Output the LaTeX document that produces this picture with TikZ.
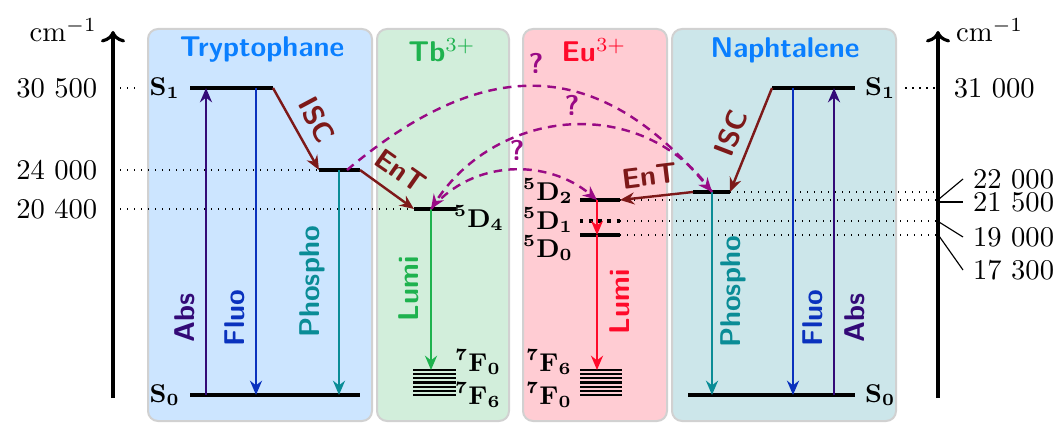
\documentclass[tikz,border=0pt]{standalone}
\usepackage{amsmath}
\usepackage{xcolor}
\usepackage{tikz}
\usetikzlibrary{arrows.meta, positioning}

\definecolor{trpfill}{HTML}{CCE5FF}
\definecolor{tbfill}{HTML}{D2EEDB}
\definecolor{eufill}{HTML}{FFCCD3}
\definecolor{naphfill}{HTML}{CCE6EA}
\definecolor{titleblue}{HTML}{0A7FFF}
\definecolor{tbgreen}{HTML}{1EB24E}
\definecolor{eured}{HTML}{FF0A2A}
\definecolor{abscol}{HTML}{330A77}
\definecolor{fluocol}{HTML}{0A32BE}
\definecolor{phoscol}{HTML}{0A8C96}
\definecolor{isccol}{HTML}{7D1919}
\definecolor{qcol}{HTML}{990A85}

\begin{document}
\begin{tikzpicture}[x=0.35pt, y=0.35pt,
  panel/.style={draw=black!18, line width=0.7pt, rounded corners=3.5pt},
  title/.style={font=\sffamily\bfseries},
  level/.style={line width=1.2pt},
  lvlab/.style={font=\small},
  trans/.style={-{Stealth[length=5pt, width=4.2pt]}, line width=0.85pt},
  tlabel/.style={font=\sffamily\bfseries, rotate=90},
  guide/.style={dotted, line width=0.45pt},
  hop/.style={trans, color=qcol, dash pattern=on 3pt off 2.2pt, line width=0.85pt},
  axis/.style={->, line width=1.1pt},
  lead/.style={line width=0.4pt}
]
  \useasboundingbox (0,0) rectangle (1057,423);

  % panels
  \draw[panel, fill=trpfill] (148,2) rectangle (372,394);
  \draw[panel, fill=tbfill] (377,2) rectangle (509,394);
  \draw[panel, fill=eufill] (523,2) rectangle (667,394);
  \draw[panel, fill=naphfill] (672,2) rectangle (896,394);
  \node[title, text=titleblue] (trpname) at (262,373) {Tryptophane};
  \node[title, text=tbgreen] (tbname) at (442,373) {Tb$^{3+}$};
  \node[title, text=eured] (euname) at (594,373) {Eu$^{3+}$};
  \node[title, text=titleblue] (naphname) at (785,373) {Naphtalene};

  % axes
  \coordinate (axL0) at (113,25);
  \coordinate (axL1) at (113,392);
  \coordinate (axR0) at (938,25);
  \coordinate (axR1) at (938,392);
  \draw[axis] (axL0) -- (axL1);
  \draw[axis] (axR0) -- (axR1);
  \node[anchor=east] (unitL) at (107,393) {$\mathrm{cm}^{-1}$};
  \node[anchor=west] (unitR) at (946,393) {$\mathrm{cm}^{-1}$};

  % levels
  \coordinate (trpS1a) at (190,335);
  \coordinate (trpS1b) at (273,335);
  \coordinate (trpTa) at (319,253);
  \coordinate (trpTb) at (360,253);
  \coordinate (trpTm) at (347,253);
  \coordinate (trpS0a) at (190,28);
  \coordinate (trpS0b) at (360,28);
  \coordinate (trpAbsx) at (206,0);
  \coordinate (trpFluox) at (256,0);
  \coordinate (trpPhosx) at (339,0);

  \coordinate (tbD4a) at (414,214);
  \coordinate (tbD4b) at (456,214);
  \coordinate (tbx) at (431,0);
  \coordinate (tbF0) at (0,53);

  \coordinate (euD2a) at (580,223);
  \coordinate (euD2b) at (620,223);
  \coordinate (euD1a) at (580,202);
  \coordinate (euD1b) at (620,202);
  \coordinate (euD0a) at (580,188);
  \coordinate (euD0b) at (620,188);
  \coordinate (eux) at (597,0);
  \coordinate (euF6) at (0,53);

  \coordinate (naphS1a) at (772,335);
  \coordinate (naphS1b) at (855,335);
  \coordinate (naphTa) at (693,231);
  \coordinate (naphTb) at (730,231);
  \coordinate (naphS0a) at (688,28);
  \coordinate (naphS0b) at (855,28);
  \coordinate (naphPhosx) at (712,0);
  \coordinate (naphFluox) at (793,0);
  \coordinate (naphAbsx) at (834,0);

  \node[lvlab, anchor=east] (trpS1lab) at (trpS1a) {$\mathbf{S_1}$};
  \node[lvlab, anchor=east] (trpS0lab) at (trpS0a) {$\mathbf{S_0}$};
  \node[lvlab, anchor=west] (naphS1lab) at (naphS1b) {$\mathbf{S_1}$};
  \node[lvlab, anchor=west] (naphS0lab) at (naphS0b) {$\mathbf{S_0}$};
  \node[lvlab] (tbD4lab) at (479,205) {$\mathbf{{}^5D_4}$};
  \node[lvlab] (tbF0lab) at (478,61) {$\mathbf{{}^7F_0}$};
  \node[lvlab] (tbF6lab) at (478,28) {$\mathbf{{}^7F_6}$};
  \node[lvlab] (euD2lab) at (548,232) {$\mathbf{{}^5D_2}$};
  \node[lvlab] (euD1lab) at (548,203) {$\mathbf{{}^5D_1}$};
  \node[lvlab] (euD0lab) at (548,175) {$\mathbf{{}^5D_0}$};
  \node[lvlab] (euF6lab) at (549,61) {$\mathbf{{}^7F_6}$};
  \node[lvlab] (euF0lab) at (549,28) {$\mathbf{{}^7F_0}$};

  % dotted guides
  \draw[guide] (axL0 |- trpS1a) -- (trpS1lab.west);
  \draw[guide] (axL0 |- trpTa) -- (trpTa);
  \draw[guide] (axL0 |- tbD4a) -- (tbD4a);
  \draw[guide] (naphS1lab.east) -- (axR0 |- naphS1b);
  \draw[guide] (naphTb) -- (axR0 |- naphTb);
  \draw[guide] (euD2b) -- (axR0 |- euD2b);
  \draw[guide] (euD1b) -- (axR0 |- euD1b);
  \draw[guide] (euD0b) -- (axR0 |- euD0b);

  \draw[level] (trpS1a) -- (trpS1b);
  \draw[level] (trpTa) -- (trpTb);
  \draw[level] (trpS0a) -- (trpS0b);
  \draw[level] (tbD4a) -- (tbD4b);
  \draw[level] (euD2a) -- (euD2b);
  \draw[level, dotted] (euD1a) -- (euD1b);
  \draw[level] (euD0a) -- (euD0b);
  \draw[level] (naphS1a) -- (naphS1b);
  \draw[level] (naphTa) -- (naphTb);
  \draw[level] (naphS0a) -- (naphS0b);
  \foreach \k in {0,...,6} {
    \draw[line width=0.75pt] (413,{53-4.17*\k}) -- (456,{53-4.17*\k});
    \draw[line width=0.75pt] (580,{53-4.17*\k}) -- (622,{53-4.17*\k});
  }

  % radiative transitions
  \draw[trans, abscol] (trpAbsx |- trpS0a) -- (trpAbsx |- trpS1a);
  \draw[trans, fluocol] (trpFluox |- trpS1a) -- (trpFluox |- trpS0a);
  \draw[trans, phoscol] (trpPhosx |- trpTa) -- (trpPhosx |- trpS0a);
  \draw[trans, tbgreen] (tbx |- tbD4a) -- (tbx |- tbF0);
  \draw[trans, eured] (eux |- euD2a) -- (eux |- euD0a);
  \draw[trans, eured] (eux |- euD0a) -- (eux |- euF6);
  \draw[trans, phoscol] (naphPhosx |- naphTa) -- (naphPhosx |- naphS0a);
  \draw[trans, fluocol] (naphFluox |- naphS1a) -- (naphFluox |- naphS0a);
  \draw[trans, abscol] (naphAbsx |- naphS0a) -- (naphAbsx |- naphS1a);

  \node[tlabel, text=abscol] (trpabs) at (185,105) {Abs};
  \node[tlabel, text=fluocol] (trpfluo) at (235,105) {Fluo};
  \node[tlabel, text=phoscol] (trpphos) at (312,141) {Phospho};
  \node[tlabel, text=tbgreen] (tblumi) at (409,134) {Lumi};
  \node[tlabel, text=eured] (eulumi) at (620,121) {Lumi};
  \node[tlabel, text=phoscol] (naphphos) at (733,131) {Phospho};
  \node[tlabel, text=fluocol] (naphfluo) at (813,105) {Fluo};
  \node[tlabel, text=abscol] (naphabs) at (855,105) {Abs};

  % ISC and energy transfer
  \draw[trans, isccol] (trpS1b) -- (trpTa);
  \draw[trans, isccol] (trpTb) -- (tbD4a);
  \draw[trans, isccol] (naphS1a) -- (naphTb);
  \draw[trans, isccol] (naphTa) -- (euD2b);
  \node[title, text=isccol, rotate=-62] (trpisc) at (317,303) {ISC};
  \node[title, text=isccol, rotate=-35] (trpent) at (401,252) {EnT};
  \node[title, text=isccol, rotate=69] (naphisc) at (731,290) {ISC};
  \node[title, text=isccol, rotate=7] (naphent) at (650,247) {EnT};

  % uncertain transfers
  \draw[hop] (trpTm) to[out=40, in=130, looseness=1.25] (naphPhosx |- naphTa);
  \draw[hop] (naphPhosx |- naphTa) to[out=125, in=57, looseness=1.1] (tbx |- tbD4a);
  \draw[hop] (tbx |- tbD4a) to[out=50, in=140] (eux |- euD2a);
  \node[title, text=qcol] (q1) at (536,360) {?};
  \node[title, text=qcol] (q2) at (572,318) {?};
  \node[title, text=qcol] (q3) at (517,273) {?};

  % energy values
  \node[left=2pt] (v30500) at (axL0 |- trpS1a) {30 500};
  \node[left=2pt] (v24000) at (axL0 |- trpTa) {24 000};
  \node[left=2pt] (v20400) at (axL0 |- tbD4a) {20 400};
  \node[right=2pt] (v31000) at (axR0 |- naphS1b) {31 000};
  \coordinate (ld1) at (939,224);
  \coordinate (ld2) at (939,221);
  \coordinate (ld3) at (939,201);
  \coordinate (ld4) at (939,187);
  \node[anchor=west] (v22000) at (963,244) {22 000};
  \node[anchor=west] (v21500) at (963,221) {21 500};
  \node[anchor=west] (v19000) at (963,186) {19 000};
  \node[anchor=west] (v17300) at (963,153) {17 300};
  \draw[lead] (ld1) -- (v22000.west);
  \draw[lead] (ld2) -- (v21500.west);
  \draw[lead] (ld3) -- (v19000.west);
  \draw[lead] (ld4) -- (v17300.west);
\end{tikzpicture}
\end{document}
